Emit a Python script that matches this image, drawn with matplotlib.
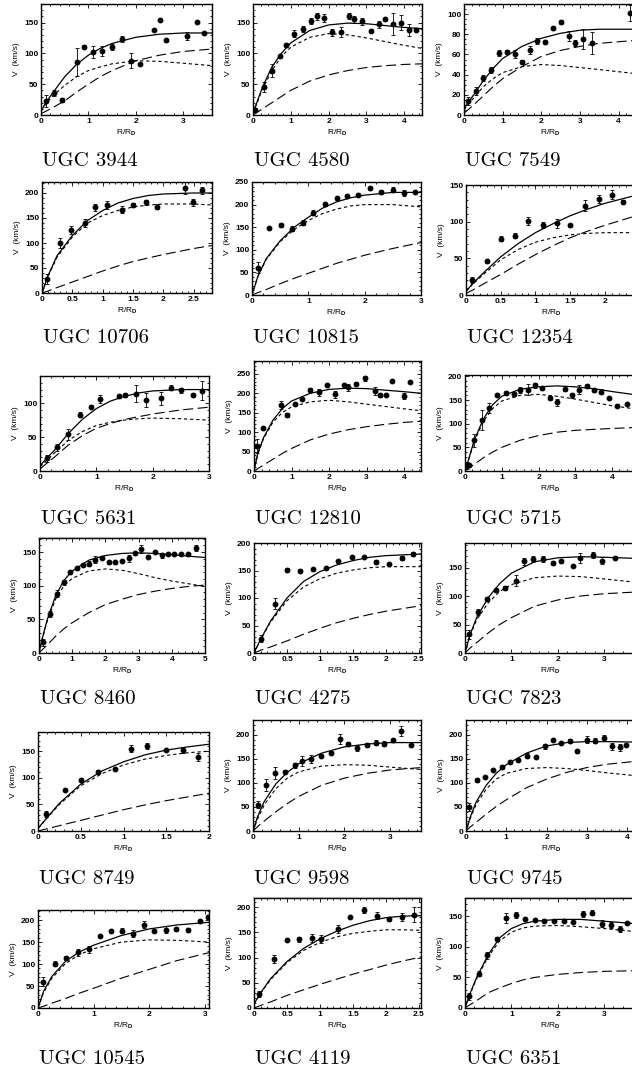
import matplotlib
matplotlib.use("Agg")
import matplotlib.pyplot as plt
from matplotlib.ticker import MultipleLocator, AutoMinorLocator, FuncFormatter
from matplotlib.lines import Line2D

plt.rcParams['font.family'] = ['Liberation Sans', 'DejaVu Sans']
plt.rcParams['font.weight'] = 'bold'
plt.rcParams['mathtext.fontset'] = 'custom'
plt.rcParams['mathtext.bf'] = 'Liberation Sans:bold'
plt.rcParams['mathtext.rm'] = 'Liberation Sans:bold'
plt.rcParams['mathtext.default'] = 'bf'

# ---- data: points (r, v, err) and model curves ----
# UGC 3944
r_3944 = [0.10, 0.28, 0.44, 0.75, 0.91, 1.09, 1.28, 1.49, 1.72, 1.90, 2.08, 2.39, 2.52, 2.64, 3.08, 3.29, 3.44]
v_3944 = [23, 36, 24, 86, 111, 102, 104, 110, 123, 88, 83, 138, 154, 121, 128, 151, 133]
e_3944 = [10, 5, 3, 22, 3, 10, 8, 5, 5, 12, 2, 2, 2, 2, 6, 2, 2]
c_3944 = [0, 0.1, 0.25, 0.5, 0.75, 1.0, 1.25, 1.5, 2.0, 2.5, 3.0, 3.61]
tot_3944 = [6, 20, 36, 62, 82, 97, 108, 116, 126, 131, 133, 133]
disk_3944 = [6, 18, 31, 48, 62, 72, 78, 83, 88, 87, 84, 80]
halo_3944 = [2, 6, 12, 23, 37, 50, 62, 72, 88, 97, 103, 107]

# UGC 4580
r_4580 = [0.04, 0.28, 0.51, 0.72, 0.88, 1.09, 1.31, 1.54, 1.70, 1.88, 2.10, 2.32, 2.54, 2.67, 2.89, 3.13, 3.33, 3.50, 3.70, 3.92, 4.12, 4.30]
v_4580 = [8, 45, 72, 95, 113, 132, 140, 153, 160, 157, 134, 135, 161, 155, 152, 137, 147, 155, 148, 150, 138, 138]
e_4580 = [3, 8, 10, 3, 3, 6, 5, 5, 6, 6, 6, 8, 5, 6, 6, 2, 6, 2, 18, 12, 10, 2]
c_4580 = [0, 0.1, 0.25, 0.5, 0.75, 1, 1.5, 2, 2.5, 3, 3.5, 4, 4.47]
tot_4580 = [4, 20, 45, 78, 100, 117, 137, 146, 149, 148, 145, 142, 140]
disk_4580 = [3, 18, 42, 72, 95, 110, 126, 132, 130, 125, 119, 113, 108]
halo_4580 = [0, 4, 10, 20, 30, 40, 55, 65, 72, 77, 80, 82, 83]

# UGC 7549
r_7549 = [0.11, 0.31, 0.50, 0.70, 0.91, 1.12, 1.32, 1.51, 1.71, 1.90, 2.10, 2.31, 2.52, 2.71, 2.88, 3.09, 3.31, 4.29]
v_7549 = [14, 24, 37, 45, 61, 62, 60, 53, 64, 73, 72, 86, 92, 78, 71, 75, 71, 101]
e_7549 = [4, 4, 3, 3, 3, 2, 4, 2, 4, 3, 2, 2, 2, 5, 3, 10, 11, 8]
c_7549 = [0, 0.1, 0.25, 0.5, 0.75, 1, 1.5, 2, 2.5, 3, 3.5, 4.45]
tot_7549 = [6, 12, 20, 34, 46, 56, 68, 76, 81, 84, 85, 85]
disk_7549 = [5, 10, 17, 28, 36, 42, 48, 50, 49, 47, 45, 41]
halo_7549 = [2, 5, 10, 19, 28, 36, 48, 58, 64, 68, 71, 74]

# UGC 10706
r_10706 = [0.09, 0.30, 0.48, 0.70, 0.88, 1.07, 1.32, 1.50, 1.71, 1.90, 2.36, 2.48, 2.64]
v_10706 = [29, 100, 125, 140, 171, 176, 166, 176, 181, 172, 209, 181, 205]
e_10706 = [10, 10, 8, 8, 7, 8, 7, 4, 5, 5, 12, 7, 7]
c_10706 = [0, 0.1, 0.25, 0.5, 0.75, 1, 1.25, 1.5, 1.75, 2, 2.5, 2.8]
tot_10706 = [0, 35, 75, 115, 145, 165, 180, 189, 195, 198, 200, 200]
disk_10706 = [0, 33, 72, 112, 140, 155, 165, 172, 176, 178, 178, 176]
halo_10706 = [0, 4, 11, 22, 33, 44, 54, 63, 70, 77, 89, 95]

# UGC 10815
r_10815 = [0.11, 0.30, 0.51, 0.71, 0.90, 1.09, 1.29, 1.50, 1.69, 1.89, 2.09, 2.29, 2.50, 2.69, 2.89]
v_10815 = [60, 148, 155, 147, 160, 182, 201, 214, 220, 222, 236, 228, 233, 226, 228]
e_10815 = [12, 3, 5, 6, 6, 5, 3, 3, 3, 3, 3, 5, 5, 7, 3]
c_10815 = [0, 0.1, 0.25, 0.5, 0.75, 1, 1.25, 1.5, 1.75, 2, 2.5, 3]
tot_10815 = [0, 40, 80, 120, 150, 172, 192, 206, 215, 221, 227, 227]
disk_10815 = [0, 40, 78, 118, 145, 165, 180, 190, 197, 200, 200, 195]
halo_10815 = [0, 5, 12, 25, 37, 48, 59, 70, 79, 88, 103, 116]

# UGC 12354
r_12354 = [0.09, 0.30, 0.50, 0.70, 0.90, 1.11, 1.31, 1.50, 1.71, 1.91, 2.10, 2.26]
v_12354 = [20, 46, 77, 81, 101, 95, 98, 95, 122, 131, 137, 127]
e_12354 = [4, 2, 4, 3, 6, 4, 6, 2, 8, 5, 6, 2]
c_12354 = [0, 0.1, 0.25, 0.5, 0.75, 1, 1.25, 1.5, 1.75, 2, 2.45]
tot_12354 = [5, 16, 30, 52, 70, 85, 97, 108, 117, 125, 136]
disk_12354 = [5, 15, 28, 48, 62, 72, 78, 82, 84, 85, 85]
halo_12354 = [2, 7, 15, 28, 42, 55, 67, 78, 87, 95, 108]

# UGC 5631
r_5631 = [0.12, 0.30, 0.50, 0.71, 0.91, 1.06, 1.40, 1.51, 1.71, 1.89, 2.14, 2.32, 2.51, 2.71, 2.87]
v_5631 = [19, 35, 54, 83, 95, 106, 110, 112, 114, 105, 107, 123, 119, 112, 118]
e_5631 = [5, 5, 8, 4, 2, 6, 2, 3, 13, 10, 10, 4, 4, 3, 14]
c_5631 = [0, 0.1, 0.25, 0.5, 0.75, 1, 1.25, 1.5, 1.75, 2, 2.5, 3]
tot_5631 = [8, 17, 30, 55, 76, 92, 103, 110, 115, 118, 120, 120]
disk_5631 = [6, 14, 26, 45, 58, 67, 72, 75, 77, 78, 77, 75]
halo_5631 = [3, 10, 20, 38, 52, 63, 70, 76, 80, 84, 90, 94]

# UGC 12810
r_12810 = [0.08, 0.25, 0.71, 0.89, 1.10, 1.29, 1.50, 1.73, 1.94, 2.15, 2.39, 2.50, 2.73, 2.96, 3.22, 3.35, 3.53, 3.68, 4.00, 4.17]
v_12810 = [65, 110, 170, 145, 172, 185, 208, 202, 222, 197, 221, 215, 225, 238, 205, 195, 196, 231, 193, 230]
e_12810 = [18, 3, 10, 5, 3, 3, 5, 10, 3, 8, 3, 8, 4, 6, 10, 4, 3, 2, 8, 2]
c_12810 = [0, 0.1, 0.25, 0.5, 0.75, 1, 1.5, 2, 2.5, 3, 3.5, 4, 4.45]
tot_12810 = [0, 45, 85, 130, 160, 180, 200, 210, 213, 212, 208, 204, 200]
disk_12810 = [0, 43, 82, 125, 150, 165, 178, 182, 178, 172, 166, 160, 155]
halo_12810 = [0, 6, 15, 30, 45, 58, 80, 95, 106, 114, 120, 125, 128]

# UGC 5715
r_5715 = [0.05, 0.10, 0.25, 0.46, 0.66, 0.87, 1.12, 1.32, 1.50, 1.70, 1.91, 2.09, 2.30, 2.49, 2.71, 2.91, 3.11, 3.32, 3.52, 3.70, 3.92, 4.12, 4.40]
v_5715 = [12, 12, 65, 108, 133, 160, 165, 163, 171, 172, 181, 175, 154, 145, 174, 160, 172, 180, 172, 168, 155, 138, 142]
e_5715 = [8, 3, 14, 22, 10, 3, 5, 4, 6, 12, 6, 3, 4, 8, 5, 5, 10, 4, 4, 5, 2, 3, 2]
c_5715 = [0, 0.1, 0.25, 0.5, 0.75, 1, 1.5, 2, 2.5, 3, 3.5, 4, 4.65]
tot_5715 = [0, 25, 65, 110, 140, 158, 173, 178, 180, 178, 174, 168, 161]
disk_5715 = [0, 24, 62, 105, 132, 148, 160, 162, 158, 152, 145, 138, 131]
halo_5715 = [0, 6, 14, 28, 40, 50, 65, 75, 82, 86, 88, 90, 92]

# UGC 8460
r_8460 = [0.12, 0.34, 0.55, 0.74, 0.94, 1.13, 1.34, 1.52, 1.70, 1.90, 2.10, 2.30, 2.50, 2.70, 2.88, 3.08, 3.28, 3.48, 3.69, 3.88, 4.08, 4.29, 4.50, 4.72]
v_8460 = [16, 58, 88, 105, 120, 126, 131, 133, 139, 142, 135, 135, 137, 141, 148, 155, 143, 150, 145, 147, 147, 147, 147, 156]
e_8460 = [5, 5, 5, 4, 2, 2, 2, 4, 5, 2, 2, 2, 2, 5, 2, 6, 2, 2, 4, 2, 2, 2, 2, 5]
c_8460 = [0, 0.1, 0.25, 0.5, 0.75, 1, 1.5, 2, 2.5, 3, 3.5, 4, 4.5, 5]
tot_8460 = [0, 22, 50, 85, 108, 122, 138, 145, 148, 149, 148, 146, 144, 142]
disk_8460 = [0, 21, 48, 80, 100, 111, 122, 125, 123, 118, 112, 107, 103, 99]
halo_8460 = [0, 5, 12, 25, 36, 45, 60, 72, 80, 87, 92, 96, 99, 101]

# UGC 4275
r_4275 = [0.11, 0.32, 0.50, 0.70, 0.90, 1.09, 1.28, 1.48, 1.67, 1.85, 2.05, 2.24, 2.41]
v_4275 = [26, 90, 151, 150, 152, 155, 167, 174, 175, 166, 162, 173, 180]
e_4275 = [6, 10, 3, 3, 2, 2, 2, 2, 2, 4, 2, 4, 3]
c_4275 = [0, 0.1, 0.25, 0.5, 0.75, 1, 1.25, 1.5, 1.75, 2, 2.53]
tot_4275 = [0, 25, 58, 100, 130, 148, 160, 168, 174, 177, 180]
disk_4275 = [0, 24, 56, 95, 120, 135, 145, 151, 155, 157, 157]
halo_4275 = [0, 5, 11, 22, 34, 45, 55, 63, 70, 76, 86]

# UGC 7823
r_7823 = [0.09, 0.28, 0.47, 0.67, 0.87, 1.09, 1.28, 1.47, 1.69, 1.89, 2.08, 2.34, 2.48, 2.76, 2.96, 3.24]
v_7823 = [33, 72, 95, 110, 114, 127, 161, 165, 165, 158, 161, 153, 167, 172, 162, 167]
e_7823 = [8, 5, 4, 3, 3, 9, 6, 6, 5, 3, 3, 2, 9, 6, 6, 2]
c_7823 = [0, 0.1, 0.25, 0.5, 0.75, 1, 1.5, 2, 2.5, 3, 3.69]
tot_7823 = [0, 30, 62, 97, 122, 140, 160, 167, 169, 168, 166]
disk_7823 = [0, 28, 58, 88, 108, 120, 132, 135, 134, 130, 124]
halo_7823 = [0, 8, 18, 35, 50, 62, 82, 93, 100, 104, 107]

# UGC 8749
r_8749 = [0.09, 0.31, 0.50, 0.70, 0.90, 1.09, 1.28, 1.50, 1.70, 1.87]
v_8749 = [32, 77, 96, 111, 117, 155, 160, 153, 152, 139]
e_8749 = [6, 2, 3, 3, 2, 7, 5, 2, 5, 7]
c_8749 = [0, 0.1, 0.25, 0.5, 0.75, 1, 1.25, 1.5, 1.75, 2]
tot_8749 = [5, 24, 52, 88, 113, 130, 143, 152, 158, 163]
disk_8749 = [5, 23, 50, 85, 108, 124, 135, 142, 147, 150]
halo_8749 = [0, 4, 10, 20, 30, 40, 49, 57, 64, 71]

# UGC 9598
r_9598 = [0.11, 0.29, 0.49, 0.71, 0.91, 1.08, 1.28, 1.50, 1.70, 1.90, 2.07, 2.27, 2.49, 2.69, 2.87, 3.06, 3.25, 3.46]
v_9598 = [55, 96, 121, 123, 137, 146, 150, 157, 163, 191, 182, 173, 179, 184, 182, 190, 208, 178]
e_9598 = [8, 12, 12, 3, 5, 10, 8, 3, 3, 10, 3, 6, 4, 6, 6, 2, 10, 2]
c_9598 = [0, 0.1, 0.25, 0.5, 0.75, 1, 1.5, 2, 2.5, 3, 3.68]
tot_9598 = [0, 30, 62, 98, 122, 140, 162, 175, 181, 184, 184]
disk_9598 = [0, 25, 55, 88, 110, 123, 135, 138, 137, 133, 128]
halo_9598 = [0, 9, 21, 40, 57, 72, 95, 110, 120, 127, 132]

# UGC 9745
r_9745 = [0.08, 0.28, 0.48, 0.68, 0.90, 1.10, 1.30, 1.52, 1.75, 1.95, 2.15, 2.35, 2.57, 2.76, 3.00, 3.20, 3.42, 3.62, 3.82, 3.98]
v_9745 = [50, 107, 112, 127, 133, 143, 148, 157, 155, 176, 190, 183, 188, 166, 190, 188, 194, 176, 174, 178]
e_9745 = [8, 4, 2, 2, 4, 2, 3, 5, 2, 5, 2, 2, 4, 3, 7, 5, 6, 8, 7, 2]
c_9745 = [0, 0.1, 0.25, 0.5, 0.75, 1, 1.5, 2, 2.5, 3, 3.5, 4.22]
tot_9745 = [0, 28, 60, 95, 120, 138, 162, 177, 184, 186, 186, 185]
disk_9745 = [0, 25, 55, 87, 108, 120, 130, 132, 130, 126, 121, 115]
halo_9745 = [0, 8, 18, 35, 51, 65, 90, 108, 122, 132, 139, 145]

# UGC 10545
r_10545 = [0.09, 0.30, 0.50, 0.71, 0.91, 1.11, 1.31, 1.50, 1.71, 1.90, 2.09, 2.29, 2.48, 2.69, 2.90, 3.05]
v_10545 = [60, 101, 114, 127, 134, 163, 176, 176, 169, 190, 175, 178, 180, 178, 199, 207]
e_10545 = [10, 6, 5, 8, 8, 2, 2, 5, 8, 7, 3, 8, 4, 4, 2, 4]
c_10545 = [0, 0.1, 0.25, 0.5, 0.75, 1, 1.5, 2, 2.5, 3.07]
tot_10545 = [0, 38, 72, 107, 128, 143, 165, 180, 189, 195]
disk_10545 = [0, 35, 68, 102, 122, 135, 150, 155, 154, 150]
halo_10545 = [0, 4, 11, 22, 34, 45, 68, 88, 108, 126]

# UGC 4119
r_4119 = [0.08, 0.30, 0.50, 0.68, 0.88, 1.02, 1.27, 1.46, 1.66, 1.86, 2.04, 2.24, 2.42]
v_4119 = [27, 98, 134, 136, 138, 137, 157, 181, 195, 183, 176, 180, 185]
e_4119 = [6, 8, 2, 5, 8, 8, 8, 2, 6, 7, 4, 8, 15]
c_4119 = [0, 0.1, 0.25, 0.5, 0.75, 1, 1.25, 1.5, 1.75, 2, 2.25, 2.53]
tot_4119 = [8, 30, 58, 92, 118, 137, 152, 164, 173, 179, 182, 183]
disk_4119 = [8, 29, 56, 90, 114, 130, 141, 148, 152, 155, 155, 154]
halo_4119 = [0, 5, 12, 25, 36, 47, 57, 67, 76, 85, 93, 101]

# UGC 6351
r_6351 = [0.09, 0.30, 0.48, 0.69, 0.89, 1.11, 1.30, 1.50, 1.70, 1.91, 2.14, 2.33, 2.55, 2.75, 2.96, 3.16, 3.35, 3.50]
v_6351 = [19, 56, 86, 113, 147, 152, 146, 144, 143, 143, 142, 141, 154, 156, 138, 136, 130, 139]
e_6351 = [6, 4, 6, 4, 8, 5, 2, 2, 2, 2, 2, 2, 5, 4, 6, 5, 5, 2]
c_6351 = [0, 0.1, 0.25, 0.5, 0.75, 1, 1.25, 1.5, 2, 2.5, 3, 3.69]
tot_6351 = [0, 22, 50, 87, 115, 130, 138, 142, 145, 145, 142, 138]
disk_6351 = [0, 21, 48, 84, 110, 124, 131, 134, 135, 133, 130, 125]
halo_6351 = [0, 5, 12, 25, 33, 40, 46, 50, 55, 58, 60, 61]

names = ['UGC 3944', 'UGC 4580', 'UGC 7549',
         'UGC 10706', 'UGC 10815', 'UGC 12354',
         'UGC 5631', 'UGC 12810', 'UGC 5715',
         'UGC 8460', 'UGC 4275', 'UGC 7823',
         'UGC 8749', 'UGC 9598', 'UGC 9745',
         'UGC 10545', 'UGC 4119', 'UGC 6351']

galaxies = [
    (r_3944, v_3944, e_3944, c_3944, tot_3944, disk_3944, halo_3944),
    (r_4580, v_4580, e_4580, c_4580, tot_4580, disk_4580, halo_4580),
    (r_7549, v_7549, e_7549, c_7549, tot_7549, disk_7549, halo_7549),
    (r_10706, v_10706, e_10706, c_10706, tot_10706, disk_10706, halo_10706),
    (r_10815, v_10815, e_10815, c_10815, tot_10815, disk_10815, halo_10815),
    (r_12354, v_12354, e_12354, c_12354, tot_12354, disk_12354, halo_12354),
    (r_5631, v_5631, e_5631, c_5631, tot_5631, disk_5631, halo_5631),
    (r_12810, v_12810, e_12810, c_12810, tot_12810, disk_12810, halo_12810),
    (r_5715, v_5715, e_5715, c_5715, tot_5715, disk_5715, halo_5715),
    (r_8460, v_8460, e_8460, c_8460, tot_8460, disk_8460, halo_8460),
    (r_4275, v_4275, e_4275, c_4275, tot_4275, disk_4275, halo_4275),
    (r_7823, v_7823, e_7823, c_7823, tot_7823, disk_7823, halo_7823),
    (r_8749, v_8749, e_8749, c_8749, tot_8749, disk_8749, halo_8749),
    (r_9598, v_9598, e_9598, c_9598, tot_9598, disk_9598, halo_9598),
    (r_9745, v_9745, e_9745, c_9745, tot_9745, disk_9745, halo_9745),
    (r_10545, v_10545, e_10545, c_10545, tot_10545, disk_10545, halo_10545),
    (r_4119, v_4119, e_4119, c_4119, tot_4119, disk_4119, halo_4119),
    (r_6351, v_6351, e_6351, c_6351, tot_6351, disk_6351, halo_6351),
]

# axis ranges (xmax, ymax) and major tick steps (x, y)
xmax = [3.61, 4.47, 4.45, 2.8, 3.0, 2.45, 3.0, 4.45, 4.65, 5.0, 2.53, 3.69, 2.0, 3.68, 4.22, 3.07, 2.53, 3.69]
ymax = [180, 180, 110, 222, 250, 150, 140, 283, 203, 171, 200, 193, 186, 231, 231, 223, 218, 180]
xstep = [1, 1, 1, 0.5, 1, 0.5, 1, 1, 1, 1, 0.5, 1, 0.5, 1, 1, 1, 0.5, 1]
ystep = [50, 50, 20, 50, 50, 50, 50, 50, 50, 50, 50, 50, 50, 50, 50, 50, 50, 50]

# ---- layout in pixels: left, top, right, bottom of each frame ----
W, H = 632, 1070
boxes = [
    (41, 4, 212, 115), (253, 4, 422, 115), (464, 4, 636, 115),
    (42, 182, 212, 293), (252, 182, 421, 295), (466, 185, 636, 295),
    (40, 376, 209, 471), (254, 361, 421, 471), (465, 375, 636, 471),
    (39, 538, 205, 653), (254, 543, 421, 653), (465, 543, 636, 653),
    (38, 732, 209, 831), (253, 720, 421, 831), (466, 720, 636, 831),
    (38, 910, 209, 1008), (254, 898, 421, 1008), (465, 898, 636, 1008),
]
label_y = [161, 338, 519, 699, 879, 1059]

fig = plt.figure(figsize=(W / 100, H / 100), dpi=100)
fmt = FuncFormatter(lambda val, pos: f"{val:g}")

for i, (name, gal) in enumerate(zip(names, galaxies)):
    left, top, right, bottom = boxes[i]
    ax = fig.add_axes([left / W, 1 - bottom / H, (right - left) / W, (bottom - top) / H])
    r, v, e, c, tot, disk, halo = gal
    ax.plot(c, halo, color='k', lw=0.8, dashes=(9, 4))
    ax.plot(c, disk, color='k', lw=0.8, dashes=(3, 2.5))
    ax.plot(c, tot, color='k', lw=0.9)
    ax.errorbar(r, v, yerr=e, fmt='o', ms=3.2, color='k', elinewidth=0.6,
                capsize=1.3, capthick=0.6)
    ax.set_xlim(0, xmax[i])
    ax.set_ylim(0, ymax[i])
    ax.xaxis.set_major_locator(MultipleLocator(xstep[i]))
    ax.yaxis.set_major_locator(MultipleLocator(ystep[i]))
    ax.xaxis.set_minor_locator(AutoMinorLocator(5))
    ax.yaxis.set_minor_locator(AutoMinorLocator(5 if ystep[i] == 50 else 4))
    ax.xaxis.set_major_formatter(fmt)
    ax.yaxis.set_major_formatter(fmt)
    ax.tick_params(which='both', direction='in', top=True, right=True,
                   labelsize=6, pad=2, width=0.6)
    ax.tick_params(which='major', length=3)
    ax.tick_params(which='minor', length=1.5)
    for s in ax.spines.values():
        s.set_linewidth(1.0)
    ax.set_xlabel('R/R$_D$', fontsize=6, labelpad=2)
    ax.set_ylabel('V  (km/s)', fontsize=6, labelpad=3)
    fig.text((left + 1) / W, 1 - label_y[i // 3] / H, name, family='cmr10',
             fontweight='normal', fontsize=15, va='center', ha='left')

# faint scan lines under a few labels
for x0, x1, y in [(40, 205, 537), (253, 421, 897), (466, 632, 897)]:
    fig.add_artist(Line2D([x0 / W, x1 / W], [1 - y / H, 1 - y / H],
                          color='#aaaaaa', lw=0.8))

fig.savefig('out.png', dpi=100)
